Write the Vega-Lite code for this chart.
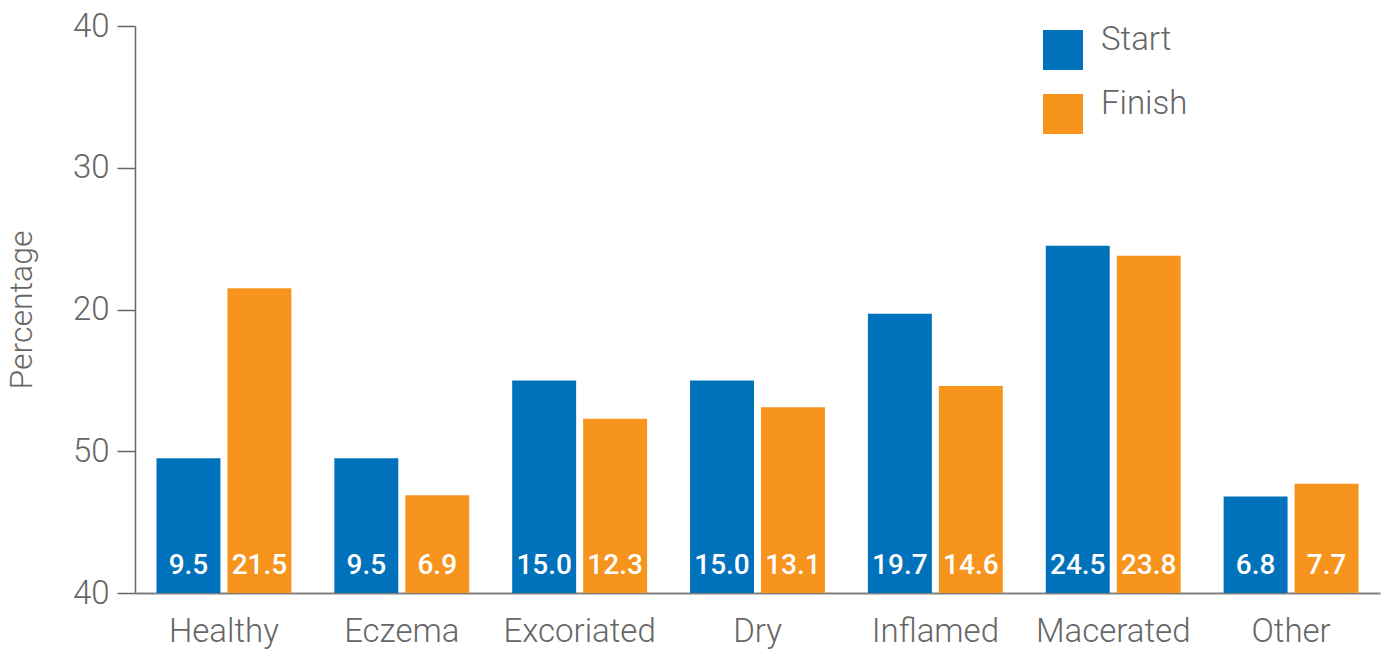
{
  "$schema": "https://vega.github.io/schema/vega-lite/v6.json",
  "autosize": {"type": "none"},
  "padding": {"left": 135, "top": 26, "right": 8, "bottom": 58},
  "width": 1245,
  "height": 567,
  "config": {
    "view": {"stroke": null},
    "font": "Roboto",
    "axis": {"labelFont": "Roboto", "titleFont": "Roboto"}
  },
  "data": {
    "values": [
      {"category": "Healthy", "series": "Start", "value": 9.5},
      {"category": "Healthy", "series": "Finish", "value": 21.5},
      {"category": "Eczema", "series": "Start", "value": 9.5},
      {"category": "Eczema", "series": "Finish", "value": 6.9},
      {"category": "Excoriated", "series": "Start", "value": 15.0},
      {"category": "Excoriated", "series": "Finish", "value": 12.3},
      {"category": "Dry", "series": "Start", "value": 15.0},
      {"category": "Dry", "series": "Finish", "value": 13.1},
      {"category": "Inflamed", "series": "Start", "value": 19.7},
      {"category": "Inflamed", "series": "Finish", "value": 14.6},
      {"category": "Macerated", "series": "Start", "value": 24.5},
      {"category": "Macerated", "series": "Finish", "value": 23.8},
      {"category": "Other", "series": "Start", "value": 6.8},
      {"category": "Other", "series": "Finish", "value": 7.7}
    ]
  },
  "encoding": {
    "x": {
      "field": "category",
      "type": "nominal",
      "sort": null,
      "scale": {"paddingInner": 0.2416, "paddingOuter": 0.1208},
      "axis": {
        "title": null,
        "labelAngle": 0,
        "labelFontSize": 33,
        "labelFontWeight": 300,
        "labelColor": "#666666",
        "labelPadding": 22,
        "ticks": false,
        "domainColor": "#808080",
        "domainWidth": 2
      }
    },
    "xOffset": {
      "field": "series",
      "type": "nominal",
      "sort": ["Start", "Finish"],
      "scale": {"paddingInner": 0.0986, "paddingOuter": 0}
    }
  },
  "layer": [
    {
      "mark": {"type": "bar"},
      "encoding": {
        "y": {
          "field": "value",
          "type": "quantitative",
          "scale": {"domain": [0, 40], "nice": false},
          "axis": {
            "title": "Percentage",
            "titleFontSize": 32,
            "titleFontWeight": 300,
            "titleColor": "#666666",
            "titlePadding": 34,
            "values": [0, 10, 20, 30, 40],
            "labelExpr": "datum.value == 0 ? '40' : datum.value == 10 ? '50' : datum.label",
            "labelFontSize": 33,
            "labelFontWeight": 300,
            "labelColor": "#666666",
            "labelPadding": 8,
            "tickSize": 18,
            "tickColor": "#666666",
            "tickWidth": 1.5,
            "domainColor": "#666666",
            "domainWidth": 1.5,
            "grid": false
          }
        },
        "color": {
          "field": "series",
          "type": "nominal",
          "sort": ["Start", "Finish"],
          "scale": {"domain": ["Start", "Finish"], "range": ["#0071BB", "#F7941E"]},
          "legend": {
            "title": null,
            "orient": "none",
            "legendX": 908,
            "legendY": 4,
            "padding": 0,
            "symbolType": "square",
            "symbolSize": 1600,
            "symbolStrokeWidth": 0,
            "symbolOpacity": 1,
            "rowPadding": 18,
            "labelFontSize": 33,
            "labelFontWeight": 300,
            "labelColor": "#666666",
            "labelOffset": 18,
            "labelBaseline": "alphabetic"
          }
        }
      }
    },
    {
      "mark": {
        "type": "text",
        "color": "white",
        "fontSize": 28,
        "fontWeight": 500,
        "baseline": "alphabetic",
        "align": "center",
        "dy": -19
      },
      "encoding": {
        "y": {"datum": 0, "type": "quantitative"},
        "text": {"field": "value", "type": "quantitative", "format": ".1f"}
      }
    }
  ]
}
